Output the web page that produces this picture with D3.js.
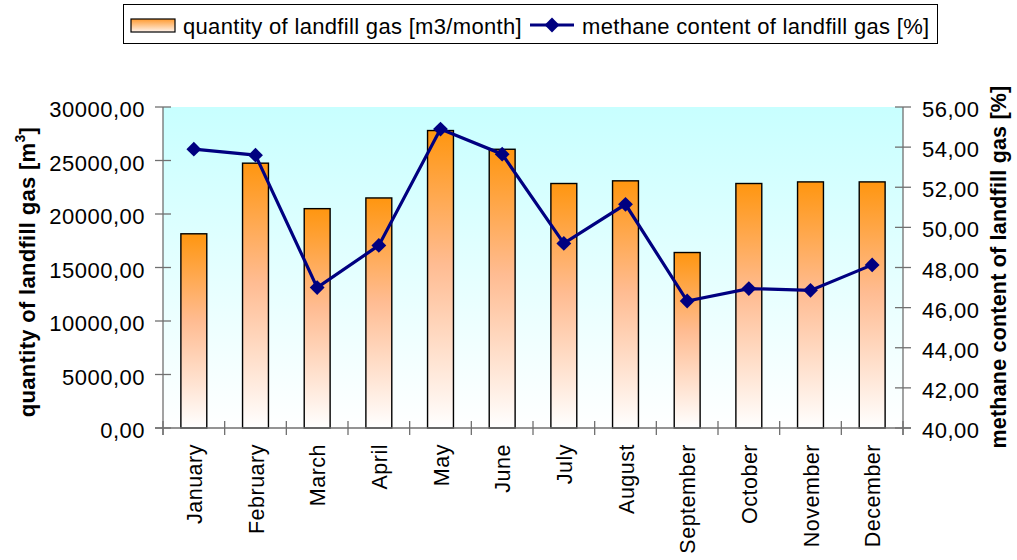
<!DOCTYPE html>
<html><head><meta charset="utf-8">
<script src="https://cdn.jsdelivr.net/npm/d3@7"></script>
<style>body{margin:0;background:#fff}svg{display:block;font-family:"Liberation Sans",Arial,sans-serif}</style>
</head><body>
<svg id="c" width="1017" height="560"></svg>
<script>
const months = ["January","February","March","April","May","June","July","August","September","October","November","December"];
const gasQuantity = [18150,24750,20500,21500,27800,26050,22850,23100,16400,22850,23000,23000];
const methaneContent = [53.9,53.6,47.0,49.1,54.9,53.65,49.2,51.15,46.33,46.95,46.86,48.13];
const leftTicks = [0,5000,10000,15000,20000,25000,30000];
const rightTicks = [40,42,44,46,48,50,52,54,56];
const legendLabels = ["quantity of landfill gas [m3/month]","methane content of landfill gas [%]"];

const svg = d3.select("#c");
const L=163, R=903, T=107, B=428;
const fmt = v => d3.format(".2f")(v).replace(".", ",");

const defs = svg.append("defs");
const bg = defs.append("linearGradient").attr("id","bg").attr("x1",0).attr("y1",0).attr("x2",0).attr("y2",1);
bg.append("stop").attr("offset","0").attr("stop-color","#c8ffff");
bg.append("stop").attr("offset","1").attr("stop-color","#ffffff");
const bar = defs.append("linearGradient").attr("id","bar").attr("x1",0).attr("y1",0).attr("x2",0).attr("y2",1);
bar.append("stop").attr("offset","0").attr("stop-color","#ff9610");
bar.append("stop").attr("offset","0.45").attr("stop-color","#ffbc92");
bar.append("stop").attr("offset","1").attr("stop-color","#ffffff");

const x = d3.scaleBand().domain(months).range([L,R]).paddingInner(0.58).paddingOuter(0.29);
const xb = d3.scaleLinear().domain([0,12]).range([L,R]);
const y = d3.scaleLinear().domain([0,30000]).range([B,T]);
const y2 = d3.scaleLinear().domain([40,56]).range([B,T]);

svg.append("rect").attr("x",L).attr("y",T).attr("width",R-L).attr("height",B-T).attr("fill","url(#bg)");

// bars
svg.append("g").selectAll("rect").data(months).join("rect")
  .attr("x",d=>x(d)).attr("width",x.bandwidth())
  .attr("y",(d,i)=>y(gasQuantity[i])).attr("height",(d,i)=>B-y(gasQuantity[i]))
  .attr("fill","url(#bar)").attr("stroke","#000").attr("stroke-width",1.4);

const axisCol = "#707070";
// left axis
const gl = svg.append("g");
gl.append("line").attr("x1",L).attr("x2",L).attr("y1",T).attr("y2",B+7).attr("stroke",axisCol).attr("stroke-width",1.3);
gl.selectAll("line.t").data(leftTicks).join("line").attr("class","t")
  .attr("x1",L-8).attr("x2",L+8).attr("y1",d=>y(d)).attr("y2",d=>y(d)).attr("stroke",axisCol).attr("stroke-width",1.3);
gl.selectAll("text").data(leftTicks).join("text")
  .attr("x",145).attr("y",d=>y(d)+10).attr("text-anchor","end").attr("font-size",22).attr("letter-spacing",0.5).attr("fill","#000").text(fmt);
// right axis
const gr = svg.append("g");
gr.append("line").attr("x1",R).attr("x2",R).attr("y1",T).attr("y2",B+7).attr("stroke",axisCol).attr("stroke-width",1.3);
gr.selectAll("line.t").data(rightTicks).join("line").attr("class","t")
  .attr("x1",R-8).attr("x2",R+8).attr("y1",d=>y2(d)).attr("y2",d=>y2(d)).attr("stroke",axisCol).attr("stroke-width",1.3);
gr.selectAll("text").data(rightTicks).join("text")
  .attr("x",922).attr("y",d=>y2(d)+10).attr("text-anchor","start").attr("font-size",22).attr("letter-spacing",0.5).attr("fill","#000").text(fmt);
// bottom axis
const gb = svg.append("g");
gb.append("line").attr("x1",L-8).attr("x2",R+8).attr("y1",B).attr("y2",B).attr("stroke",axisCol).attr("stroke-width",1.3);
gb.selectAll("line.t").data(d3.range(13)).join("line").attr("class","t")
  .attr("x1",d=>xb(d)).attr("x2",d=>xb(d)).attr("y1",B-7).attr("y2",B+7).attr("stroke",axisCol).attr("stroke-width",1.3);
gb.selectAll("text").data(months).join("text")
  .attr("transform",d=>`translate(${x(d)+x.bandwidth()/2+8},444) rotate(-90)`)
  .attr("text-anchor","end").attr("font-size",21.5).attr("letter-spacing",0.5).attr("fill","#000").text(d=>d);

// line
const line = d3.line().x((d,i)=>x(months[i])+x.bandwidth()/2).y(d=>y2(d));
svg.append("path").datum(methaneContent).attr("d",line).attr("fill","none").attr("stroke","#000080").attr("stroke-width",3.2);
svg.append("g").selectAll("path").data(methaneContent).join("path")
  .attr("d",d3.symbol().type(d3.symbolSquare).size(110))
  .attr("transform",(d,i)=>`translate(${x(months[i])+x.bandwidth()/2},${y2(d)}) rotate(45)`)
  .attr("fill","#000080");

// axis titles
const t1 = svg.append("text").attr("transform","translate(35,272) rotate(-90)").attr("text-anchor","middle")
  .attr("font-size",22).attr("font-weight","bold").attr("letter-spacing",0.3).attr("fill","#000");
t1.append("tspan").text("quantity of landfill gas [m");
t1.append("tspan").attr("font-size",14).attr("dy",-10).text("3");
t1.append("tspan").attr("dy",10).text("]");
svg.append("text").attr("transform","translate(1006,267) rotate(-90)").attr("text-anchor","middle")
  .attr("font-size",21.5).attr("font-weight","bold").attr("letter-spacing",0.2).attr("fill","#000").text("methane content of landfill gas [%]");

// legend
const lg = svg.append("g");
lg.append("rect").attr("x",123.5).attr("y",4.5).attr("width",814).attr("height",39).attr("fill","#fff").attr("stroke","#000").attr("stroke-width",1);
const sw = defs.append("linearGradient").attr("id","sw").attr("x1",0).attr("y1",0).attr("x2",0).attr("y2",1);
sw.append("stop").attr("offset","0").attr("stop-color","#ff9a30");
sw.append("stop").attr("offset","1").attr("stop-color","#fff4ee");
lg.append("rect").attr("x",131).attr("y",19).attr("width",44).attr("height",13).attr("fill","url(#sw)").attr("stroke","#000").attr("stroke-width",1.2);
lg.append("text").attr("x",183).attr("y",34).attr("font-size",22).attr("letter-spacing",0.32).attr("fill","#000").text(legendLabels[0]);
lg.append("line").attr("x1",530).attr("x2",574).attr("y1",25).attr("y2",25).attr("stroke","#000080").attr("stroke-width",3.2);
lg.append("path").attr("d",d3.symbol().type(d3.symbolSquare).size(110)).attr("transform","translate(552,25) rotate(45)").attr("fill","#000080");
lg.append("text").attr("x",582).attr("y",34).attr("font-size",22).attr("letter-spacing",0.32).attr("fill","#000").text(legendLabels[1]);
</script>
</body></html>
